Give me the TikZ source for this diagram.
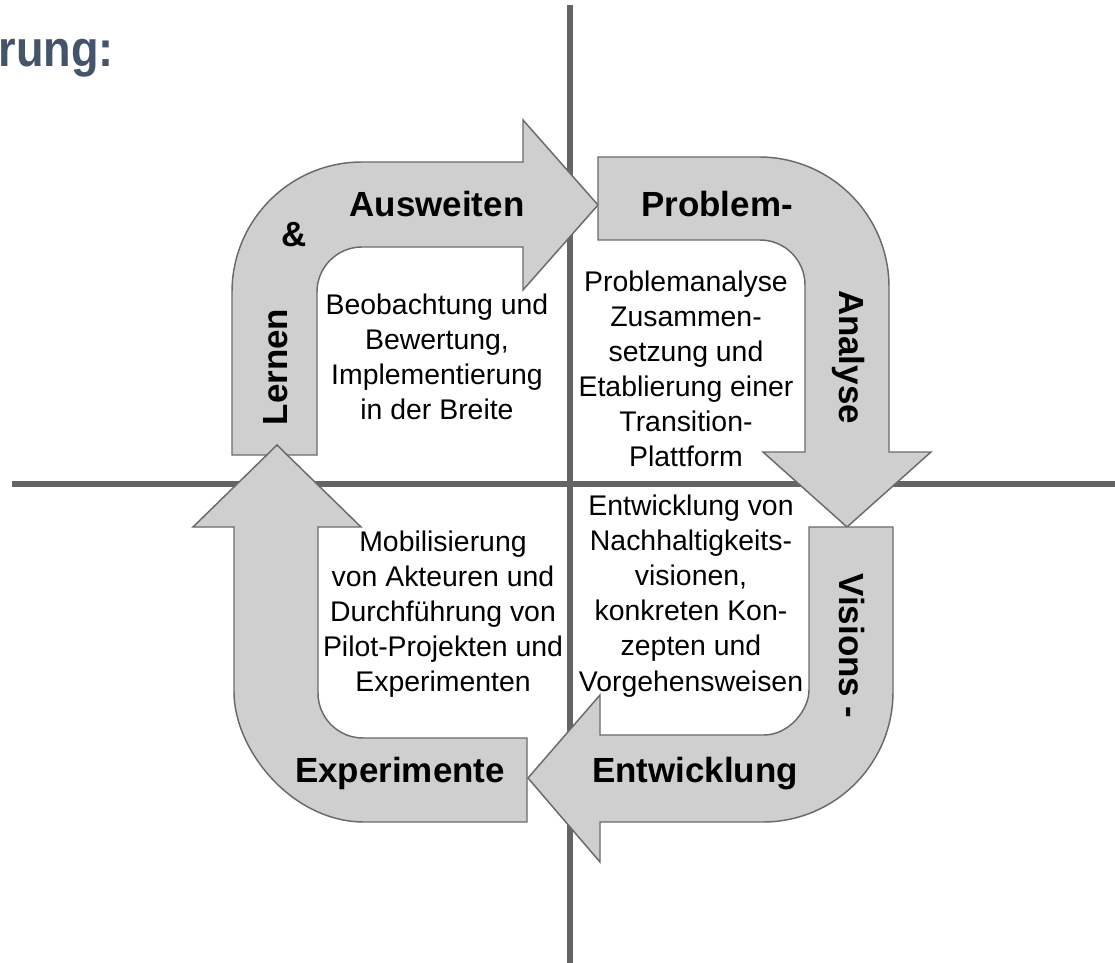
\documentclass[tikz,border=0pt]{standalone}
\usepackage{fontspec}
\setmainfont{Liberation Sans}
\newfontfamily\titlefont[FakeStretch=0.89]{Liberation Sans}
\definecolor{axisgray}{HTML}{646464}
\definecolor{arrowfill}{HTML}{CFCFCF}
\definecolor{arrowline}{HTML}{6A6A6A}
\definecolor{titleblue}{HTML}{44546A}
\begin{document}
\begin{tikzpicture}[x=0.75pt,y=-0.75pt,
  axisline/.style={draw=axisgray,line width=4.6pt},
  bigarrow/.style={fill=arrowfill,draw=arrowline,line width=1.1pt,line join=miter},
  lbl/.style={font=\fontsize{26.2pt}{30pt}\selectfont\bfseries,inner sep=0pt},
  body/.style={font=\fontsize{21.3pt}{26.3pt}\selectfont,align=center,inner sep=0pt},
  ]
\useasboundingbox (0,0) rectangle (1115,963);
% axes
\draw[axisline] (570,5) -- (570,963);
\draw[axisline] (12,484) -- (1115,484);
% title
\node[anchor=base east,inner sep=0pt,text=titleblue,font=\titlefont\fontsize{38pt}{44pt}\selectfont\bfseries] (title) at (114,67) {rung:};
% arrow 1: Lernen & Ausweiten
\path[bigarrow] (232,455) -- (232,292) .. controls (232,220.2) and (290.2,162) .. (362,162)
  -- (523,162) -- (523,120) -- (598,205) -- (523,290) -- (523,247) -- (362,247)
  .. controls (337.15,247) and (317,267.15) .. (317,292) -- (317,455) -- cycle;
% arrow 2: Problem-Analyse
\path[bigarrow] (598,157) -- (759,157) .. controls (830.8,157) and (889,215.2) .. (889,287)
  -- (889,452) -- (931,452) -- (847,527) -- (763,452) -- (805,452) -- (805,285)
  .. controls (805,260.15) and (784.85,240) .. (760,240) -- (598,240) -- cycle;
% arrow 3: Visions-Entwicklung
\path[bigarrow] (809,527) -- (893,527) -- (893,692) .. controls (893,763.8) and (834.8,822) .. (763,822)
  -- (600,822) -- (600,862) -- (528,778) -- (600,695) -- (600,735) -- (764,735)
  .. controls (788.85,735) and (809,710.15) .. (809,690) -- cycle;
% arrow 4: Experimente
\path[bigarrow] (527,738) -- (527,822) -- (364,822) .. controls (292.2,822) and (234,750.2) .. (234,692)
  -- (234,527) -- (193,527) -- (277,445) -- (361,527) -- (318,527) -- (318,693)
  .. controls (318,717.85) and (338.15,738) .. (363,738) -- cycle;
% arrow labels
\node[lbl,anchor=base] (ausweiten) at (437,217) {Ausweiten};
\node[lbl,anchor=base] (und) at (294,247) {\&};
\node[lbl,rotate=90] (lernen) at (276,367) {Lernen};
\node[lbl,anchor=base] (problem) at (717,217) {Problem-};
\node[lbl,rotate=-90] (analyse) at (849,357) {Analyse};
\node[lbl,rotate=-90] (visions) at (852,646) {Visions -};
\node[lbl,anchor=base] (entwicklung) at (695,782) {Entwicklung};
\node[lbl,anchor=base] (experimente) at (400,782) {Experimente};
% body texts
\node[body] (tl) at (437,357) {Beobachtung und\\Bewertung,\\Implementierung\\in der Breite};
\node[body] (tr) at (686,369) {Problemanalyse\\Zusammen-\\setzung und\\Etablierung einer\\Transition-\\Plattform};
\node[body] (br) at (691,596) {Entwicklung von\\Nachhaltigkeits-\\visionen,\\konkreten Kon-\\zepten und\\Vorgehensweisen};
\node[body] (bl) at (443,614) {Mobilisierung\\von Akteuren und\\Durchführung von\\Pilot-Projekten und\\Experimenten};
\end{tikzpicture}
\end{document}
